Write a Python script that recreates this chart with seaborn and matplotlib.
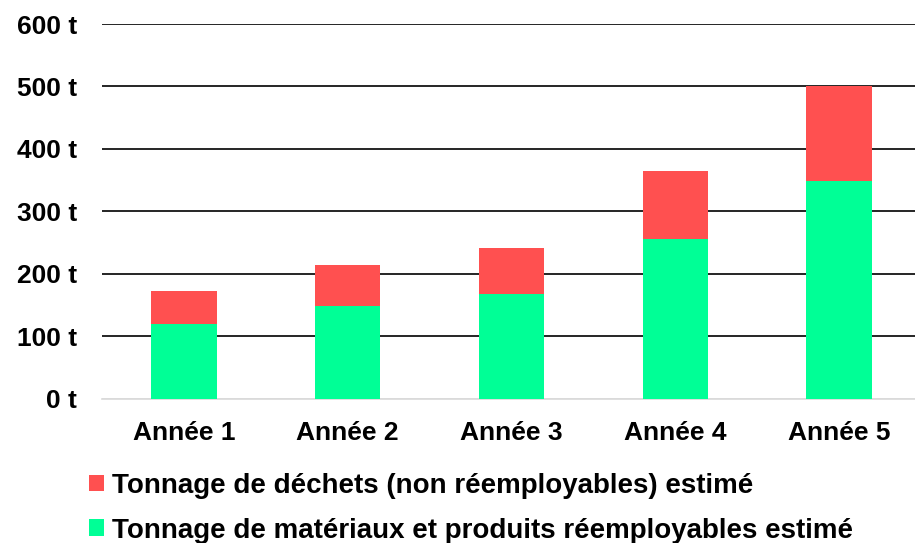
import numpy as np
import pandas as pd
import matplotlib
matplotlib.use("Agg")
from matplotlib import pyplot as plt
import seaborn as sns

# values (tonnes)
annees = ["Année 1", "Année 2", "Année 3", "Année 4", "Année 5"]
reemployables = [120, 149, 168, 255, 349]
dechets = [52, 65, 73, 110, 151]
yticks = [0, 100, 200, 300, 400, 500, 600]

label_dechets = "Tonnage de déchets (non réemployables) estimé"
label_reemp = "Tonnage de matériaux et produits réemployables estimé"

RED = "#FF5050"
GREEN = "#00FF96"

sns.set_style("white")
plt.rcParams['font.family'] = ['Liberation Sans', 'DejaVu Sans']
plt.rcParams['font.weight'] = 'bold'
plt.rcParams['text.color'] = 'black'

df = pd.DataFrame({"annee": annees,
                   "reemp": reemployables,
                   "dechets": dechets})
df["total"] = df["reemp"] + df["dechets"]

fig = plt.figure(figsize=(9.15, 5.43), dpi=100)
ax = fig.add_axes([0.1115, 0.2657, 0.895, 0.690])

# stacked bars: total in red first, then green part on top
sns.barplot(data=df, x="annee", y="total", color=RED, width=0.4,
            saturation=1, errorbar=None, ax=ax, label=label_dechets,
            linewidth=0, zorder=3)
sns.barplot(data=df, x="annee", y="reemp", color=GREEN, width=0.4,
            saturation=1, errorbar=None, ax=ax, label=label_reemp,
            linewidth=0, zorder=3)

ax.set_ylim(0, 600)
ax.set_yticks(yticks)
ax.set_yticklabels([f"{v} t" for v in yticks])
ax.set_xlabel("")
ax.set_ylabel("")

ax.grid(axis='y', color='black', linewidth=1.2, zorder=0)
ax.set_axisbelow(True)
ax.yaxis.get_gridlines()[0].set_color('#d9d9d9')
for s in ["top", "right", "left"]:
    ax.spines[s].set_visible(False)
ax.spines["bottom"].set_color('#d9d9d9')
ax.spines["bottom"].set_linewidth(1.2)

ax.tick_params(axis='y', length=0, pad=18, labelsize=19, labelcolor='black')
ax.tick_params(axis='x', length=0, pad=16, labelsize=19, labelcolor='black')
for t in ax.get_xticklabels() + ax.get_yticklabels():
    t.set_fontweight('bold')

if ax.get_legend():
    ax.get_legend().remove()
handles, labels = ax.get_legend_handles_labels()
fig.legend(handles, labels, loc='upper left', bbox_to_anchor=(0.0973, 0.129),
           frameon=False, handlelength=0.54, handleheight=0.54,
           handletextpad=0.3, labelspacing=0.67, borderpad=0, borderaxespad=0,
           labelcolor='black', prop={'weight': 'bold', 'size': 20})

fig.savefig("out.png", dpi=100)
